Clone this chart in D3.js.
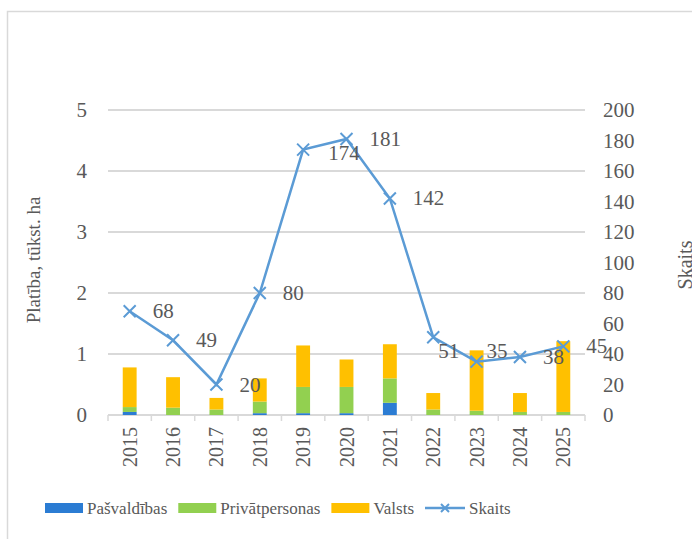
<!DOCTYPE html>
<html>
<head>
<meta charset="utf-8">
<script src="https://cdn.jsdelivr.net/npm/d3@7"></script>
<style>
  body { margin: 0; background: #fff; }
  svg { display: block; }
  text { font-family: "Liberation Serif", "Times New Roman", serif; fill: #595959; }
</style>
</head>
<body>
<svg id="chart" width="692" height="539"></svg>
<script>
// data
var years = ["2015", "2016", "2017", "2018", "2019", "2020", "2021", "2022", "2023", "2024", "2025"];
var pasvaldibas = [0.05, 0, 0, 0.03, 0.03, 0.03, 0.20, 0, 0, 0, 0];
var privatpersonas = [0.08, 0.12, 0.09, 0.19, 0.43, 0.43, 0.40, 0.09, 0.07, 0.05, 0.05];
var valsts = [0.65, 0.50, 0.19, 0.38, 0.68, 0.45, 0.56, 0.27, 0.99, 0.31, 1.16];
var skaits = [68, 49, 20, 80, 174, 181, 142, 51, 35, 38, 45];
var leftTicks = [0, 1, 2, 3, 4, 5];
var rightTicks = [0, 20, 40, 60, 80, 100, 120, 140, 160, 180, 200];

var seriesNames = ["Pašvaldības", "Privātpersonas", "Valsts"];
var seriesColors = ["#2b7cd3", "#92d050", "#ffc000"];
var lineColor = "#5b9bd5";
var gridColor = "#d9d9d9";

var plot = { left: 108, right: 585, top: 110, bottom: 415 };

var svg = d3.select("#chart");

// outer frame
svg.append("rect")
  .attr("x", 7.5).attr("y", 11.5)
  .attr("width", 720).attr("height", 600)
  .attr("fill", "none")
  .attr("stroke", gridColor)
  .attr("stroke-width", 1.5);

var xScale = d3.scaleBand()
  .domain(years)
  .range([plot.left, plot.right])
  .paddingInner(0.68)
  .paddingOuter(0.34);

var yLeft = d3.scaleLinear().domain([0, 5]).range([plot.bottom, plot.top]);
var yRight = d3.scaleLinear().domain([0, 200]).range([plot.bottom, plot.top]);

var center = (d) => xScale(d) + xScale.bandwidth() / 2;

// gridlines
svg.append("g")
  .selectAll("line")
  .data(leftTicks)
  .enter()
  .append("line")
  .attr("x1", plot.left).attr("x2", plot.right)
  .attr("y1", (d) => yLeft(d)).attr("y2", (d) => yLeft(d))
  .attr("stroke", gridColor)
  .attr("stroke-width", 2);

// category tick marks on the x axis
var step = xScale.step();
svg.append("g")
  .selectAll("line")
  .data(d3.range(years.length + 1))
  .enter()
  .append("line")
  .attr("x1", (i) => plot.left + i * step).attr("x2", (i) => plot.left + i * step)
  .attr("y1", plot.bottom).attr("y2", plot.bottom + 6)
  .attr("stroke", gridColor)
  .attr("stroke-width", 1.5);

// left axis labels
var leftAxis = d3.axisLeft(yLeft).tickValues(leftTicks).tickFormat(d3.format("d")).tickSize(0).tickPadding(0);
svg.append("g")
  .attr("transform", "translate(87,0)")
  .call(leftAxis)
  .call((g) => g.select(".domain").remove())
  .selectAll("text")
  .style("font-family", '"Liberation Serif", serif')
  .style("font-size", "21px")
  .attr("fill", "#595959");

// right axis labels
var rightAxis = d3.axisRight(yRight).tickValues(rightTicks).tickFormat(d3.format("d")).tickSize(0).tickPadding(0);
svg.append("g")
  .attr("transform", "translate(603,0)")
  .call(rightAxis)
  .call((g) => g.select(".domain").remove())
  .selectAll("text")
  .style("font-family", '"Liberation Serif", serif')
  .style("font-size", "21px")
  .attr("fill", "#595959");

// year labels
svg.append("g")
  .selectAll("text")
  .data(years)
  .enter()
  .append("text")
  .attr("transform", (d) => `translate(${center(d) + 7},427) rotate(-90)`)
  .attr("text-anchor", "end")
  .style("font-size", "20px")
  .text((d) => d);

// axis titles
svg.append("text")
  .attr("transform", "translate(40,260) rotate(-90)")
  .attr("text-anchor", "middle")
  .style("font-size", "19px")
  .text("Platība, tūkst. ha");

svg.append("text")
  .attr("transform", "translate(692,265) rotate(-90)")
  .attr("text-anchor", "middle")
  .style("font-size", "20px")
  .text("Skaits");

// stacked bars
var rows = years.map((y, i) => ({
  year: y,
  "Pašvaldības": pasvaldibas[i],
  "Privātpersonas": privatpersonas[i],
  "Valsts": valsts[i],
}));
var stacked = d3.stack().keys(seriesNames)(rows);

svg.append("g")
  .selectAll("g")
  .data(stacked)
  .enter()
  .append("g")
  .attr("fill", (d, i) => seriesColors[i])
  .selectAll("rect")
  .data((d) => d)
  .enter()
  .append("rect")
  .attr("x", (d) => xScale(d.data.year))
  .attr("width", xScale.bandwidth())
  .attr("y", (d) => yLeft(d[1]))
  .attr("height", (d) => yLeft(d[0]) - yLeft(d[1]));

// line
var line = d3.line()
  .x((d, i) => center(years[i]))
  .y((d) => yRight(d));

svg.append("path")
  .datum(skaits)
  .attr("d", line)
  .attr("fill", "none")
  .attr("stroke", lineColor)
  .attr("stroke-width", 2.5);

function cross(sel, s) {
  sel.append("path")
    .attr("d", `M${-s},${-s}L${s},${s}M${-s},${s}L${s},${-s}`)
    .attr("stroke", lineColor)
    .attr("stroke-width", 2)
    .attr("fill", "none");
}

svg.append("g")
  .selectAll("g")
  .data(skaits)
  .enter()
  .append("g")
  .attr("transform", (d, i) => `translate(${center(years[i])},${yRight(d)})`)
  .each(function () { cross(d3.select(this), 6); });

// data labels, a few nudged by hand like in the original
var nudge = { 4: [2, 3], 7: [-18, 14], 8: [-13, -11] };
svg.append("g")
  .selectAll("text")
  .data(skaits)
  .enter()
  .append("text")
  .attr("x", (d, i) => center(years[i]) + 23 + (nudge[i] ? nudge[i][0] : 0))
  .attr("y", (d, i) => yRight(d) + 7 + (nudge[i] ? nudge[i][1] : 0))
  .style("font-size", "21px")
  .attr("fill", "#404040")
  .text((d) => d);

// legend
var legend = svg.append("g").attr("transform", "translate(45,508)");
var lx = 0;
seriesNames.forEach((name, i) => {
  legend.append("rect")
    .attr("x", lx).attr("y", -5)
    .attr("width", 38).attr("height", 10)
    .attr("fill", seriesColors[i]);
  var t = legend.append("text")
    .attr("x", lx + 42).attr("y", 6)
    .style("font-size", "17px")
    .text(name);
  lx += 42 + t.node().getComputedTextLength() + 11;
});
legend.append("line")
  .attr("x1", lx).attr("x2", lx + 40)
  .attr("y1", 0).attr("y2", 0)
  .attr("stroke", lineColor)
  .attr("stroke-width", 2.5);
cross(legend.append("g").attr("transform", `translate(${lx + 20},0)`), 4);
legend.append("text")
  .attr("x", lx + 44).attr("y", 6)
  .style("font-size", "17px")
  .text("Skaits");
</script>
</body>
</html>
